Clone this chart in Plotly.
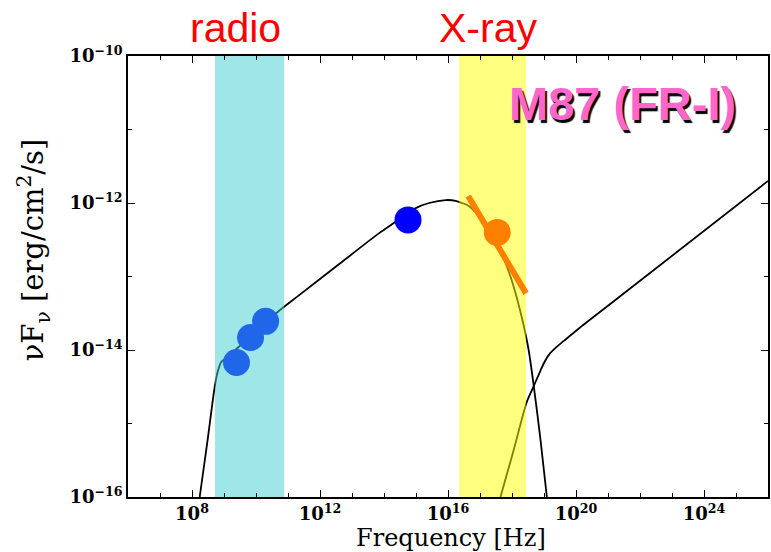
import plotly.graph_objects as go

# Spectral energy distribution of M87 (log10 frequency [Hz], log10 nuFnu [erg/cm2/s])
sync_log_nu = [8.24, 8.48, 8.71, 8.80, 8.92, 9.18, 9.43, 9.83, 10.30, 10.74, 11.36,
               12.60, 13.85, 14.32, 14.99, 15.41, 15.93, 16.24, 16.44, 16.65, 16.97,
               17.37, 17.74, 17.96, 18.15, 18.34, 18.52, 18.68, 18.89, 19.09]
sync_log_flux = [-16.00, -15.25, -14.50, -14.30, -14.16, -14.07, -13.97, -13.82, -13.63,
                 -13.46, -13.25, -12.83, -12.41, -12.27, -12.07, -12.00, -11.96, -11.97,
                 -12.00, -12.04, -12.19, -12.48, -12.76, -13.01, -13.29, -13.62, -14.00,
                 -14.49, -15.22, -16.00]

ic_log_nu = [17.64, 18.06, 18.46, 18.68, 18.87, 19.02, 19.18, 19.36, 19.61, 20.08, 21.23, 26.00]
ic_log_flux = [-16.00, -15.35, -14.71, -14.49, -14.30, -14.16, -14.05, -13.97, -13.88,
               -13.71, -13.32, -11.70]

radio_log_nu = [9.39, 9.83, 10.30]
radio_log_flux = [-14.17, -13.83, -13.61]

optical_log_nu = [14.75]
optical_log_flux = [-12.23]

xray_log_nu = [17.54]
xray_log_flux = [-12.40]
xray_slope_log_nu = [16.63, 18.44]
xray_slope_log_flux = [-11.905, -13.23]

# observing windows (log10 Hz)
radio_band = [8.72, 10.88]
xray_band = [16.35, 18.44]
flux_span = [-16, -10]

x_major = [8, 12, 16, 20, 24]
x_minor = [6, 7, 9, 10, 11, 13, 14, 15, 17, 18, 19, 21, 22, 23, 25, 26]
y_major = [-10, -12, -14, -16]
y_minor = [-11, -13, -15]


def lin(vals):
    return [10.0 ** v for v in vals]


def band_trace(band, color):
    xs = lin([band[0], band[1], band[1], band[0], band[0]])
    ys = lin([flux_span[0], flux_span[0], flux_span[1], flux_span[1], flux_span[0]])
    return go.Scatter(x=xs, y=ys, mode="lines", fill="toself", fillcolor=color,
                      line=dict(width=0), hoverinfo="skip")


fig = go.Figure()

fig.add_trace(go.Scatter(x=lin(sync_log_nu), y=lin(sync_log_flux), mode="lines",
                         line=dict(color="black", width=1.8, shape="spline", smoothing=0.8)))
fig.add_trace(go.Scatter(x=lin(ic_log_nu), y=lin(ic_log_flux), mode="lines",
                         line=dict(color="black", width=1.8, shape="spline", smoothing=0.8)))
fig.add_trace(go.Scatter(x=lin(radio_log_nu), y=lin(radio_log_flux), mode="markers",
                         marker=dict(color="#0000FF", size=27, line=dict(width=0))))

# translucent observing windows over the model curves
fig.add_trace(band_trace(radio_band, "rgba(61,205,209,0.5)"))
fig.add_trace(band_trace(xray_band, "rgba(255,255,0,0.5)"))

fig.add_trace(go.Scatter(x=lin(optical_log_nu), y=lin(optical_log_flux), mode="markers",
                         marker=dict(color="#0000FF", size=27, line=dict(width=0))))
fig.add_trace(go.Scatter(x=lin(xray_slope_log_nu), y=lin(xray_slope_log_flux), mode="lines",
                         line=dict(color="#FF7F00", width=6)))
fig.add_trace(go.Scatter(x=lin(xray_log_nu), y=lin(xray_log_flux), mode="markers",
                         marker=dict(color="#FF7F00", size=27, line=dict(width=0))))

tick_font = dict(family="DejaVu Serif", size=18, color="black", weight="bold")

fig.update_xaxes(
    type="log", range=[6, 26],
    tickmode="array", tickvals=lin(x_major),
    ticktext=[f"10<sup>{v}</sup>" for v in x_major],
    ticks="inside", ticklen=7, tickwidth=1.2, tickcolor="black",
    minor=dict(tickmode="array", tickvals=lin(x_minor), ticks="inside",
               ticklen=4, tickwidth=1.2, tickcolor="black", showgrid=False),
    showline=True, linecolor="black", linewidth=1.6, mirror="allticks",
    showgrid=False, zeroline=False, tickfont=tick_font,
)
fig.update_yaxes(
    type="log", range=[-16, -10],
    tickmode="array", tickvals=lin(y_major),
    ticktext=[f"10<sup>\u2212{abs(v)}</sup>" for v in y_major],
    ticks="inside", ticklen=7, tickwidth=1.2, tickcolor="black",
    minor=dict(tickmode="array", tickvals=lin(y_minor), ticks="inside",
               ticklen=4, tickwidth=1.2, tickcolor="black", showgrid=False),
    showline=True, linecolor="black", linewidth=1.6, mirror="allticks",
    showgrid=False, zeroline=False, tickfont=tick_font,
)

fig.add_annotation(text="radio", xref="paper", yref="paper", x=0.168, y=1.063,
                   showarrow=False, xanchor="center", yanchor="middle",
                   font=dict(family="Liberation Sans", size=41, color="#FF0000"))
fig.add_annotation(text="X-ray", xref="paper", yref="paper", x=0.5623, y=1.063,
                   showarrow=False, xanchor="center", yanchor="middle",
                   font=dict(family="Liberation Sans", size=41, color="#FF0000"))
fig.add_annotation(text="<b>M87 (FR-I)</b>", xref="paper", yref="paper", x=0.7726, y=0.893,
                   showarrow=False, xanchor="center", yanchor="middle",
                   font=dict(family="Liberation Sans", size=47, color="#FF66CC",
                             shadow="2px 3px 1px #000000"))
fig.add_annotation(text="Frequency [Hz]", xref="paper", yref="paper", x=0.505, y=-0.094,
                   showarrow=False, xanchor="center", yanchor="middle",
                   font=dict(family="DejaVu Serif", size=24, color="black"))
fig.add_annotation(text="\u03bdF<sub>\u03bd</sub> [erg/cm<sup>2</sup>/s]", xref="paper", yref="paper",
                   x=-0.148, y=0.56, textangle=-90,
                   showarrow=False, xanchor="center", yanchor="middle",
                   font=dict(family="DejaVu Serif", size=29, color="black"))

fig.update_layout(
    width=771, height=552,
    margin=dict(l=128, r=1, t=56, b=55),
    paper_bgcolor="white", plot_bgcolor="white",
    showlegend=False,
)

fig.write_html("out.html")
